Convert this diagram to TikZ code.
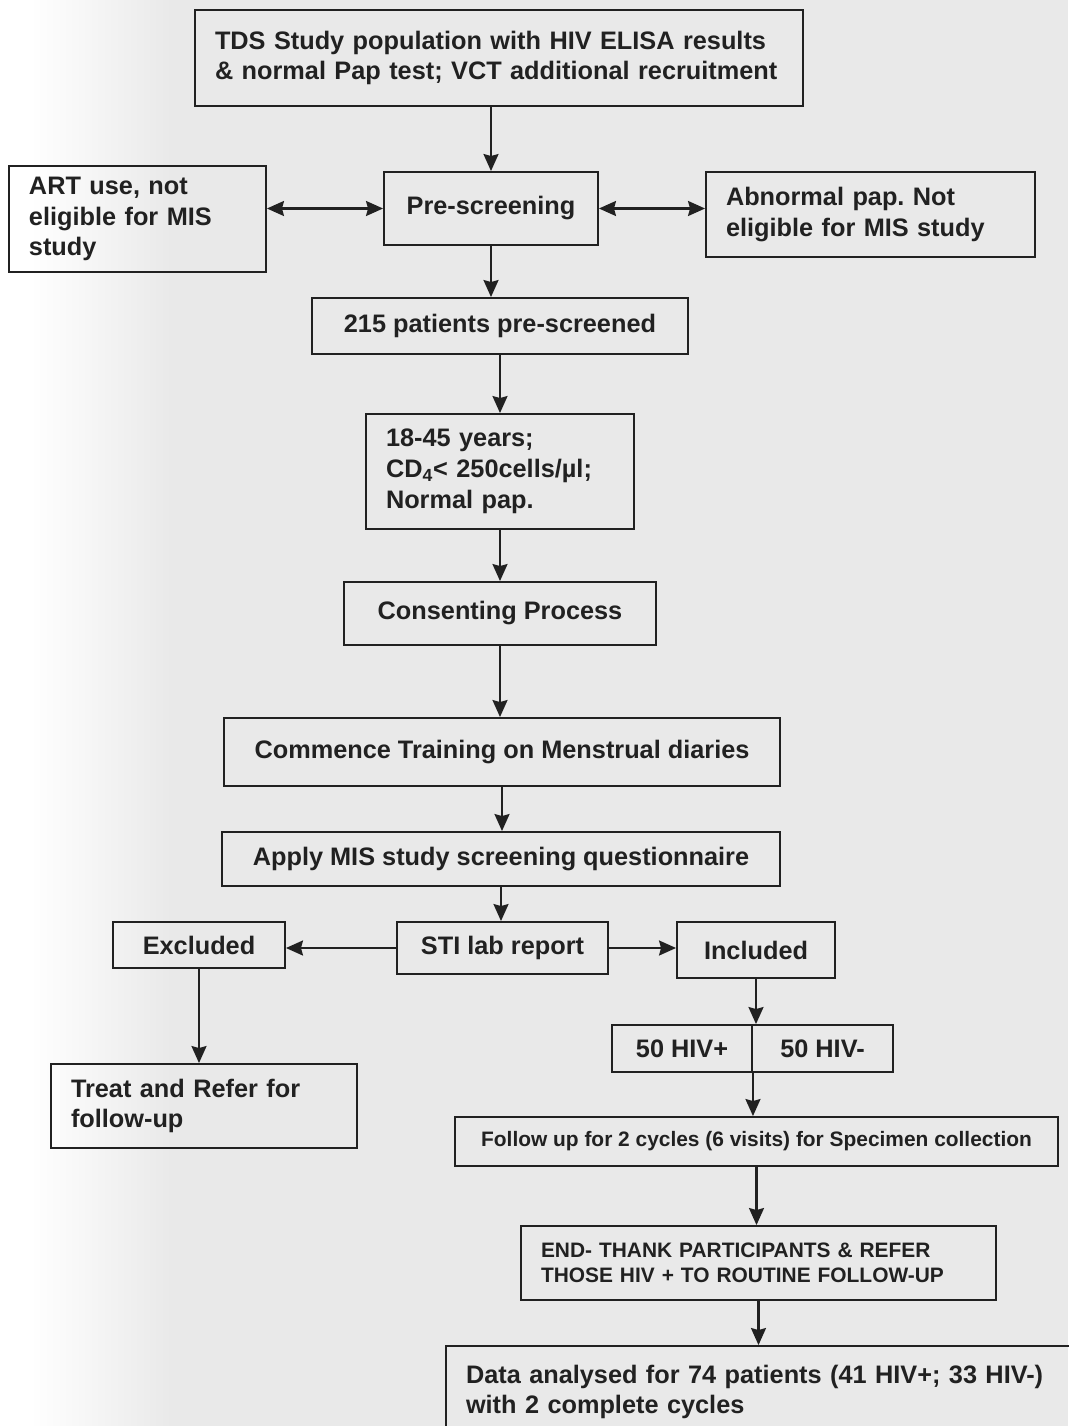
\documentclass[tikz,border=0pt]{standalone}
\usepackage{fontspec}
\setmainfont{Liberation Sans}
\usetikzlibrary{arrows.meta}
\definecolor{pagegray}{gray}{0.915}
\definecolor{inkgray}{gray}{0.13}
\frenchspacing

\begin{document}
\begin{tikzpicture}[x=0.02cm, y=-0.02cm,
    >={Stealth[length=0.34cm, width=0.3cm, inset=0.04cm]},
    every node/.style={font=\fontsize{14.4}{17.5}\selectfont\bfseries, text=inkgray},
    smalltext/.style={font=\fontsize{11.9}{14.2}\selectfont\bfseries},
    box/.style n args={2}{draw=inkgray, line width=1.1pt, inner sep=0pt,
        minimum width=#1*0.02cm, minimum height=#2*0.02cm},
    leftbox/.style n args={2}{draw=inkgray, line width=1.1pt, inner xsep=0.4cm, inner ysep=0pt,
        text width=(#1-40)*0.02cm, align=left, minimum height=#2*0.02cm},
    link/.style={draw=inkgray, line width=1.2pt}]
    \useasboundingbox (0,0) rectangle (1068,1426);
    \fill [pagegray] (0,0) rectangle (1068,1426);
    \fill [white] (0,0) rectangle (30,1426);
    \shade [left color=white, right color=pagegray] (30,0) rectangle (170,1426);

    \node [leftbox={608}{96}] (top) at (499,58)
        {TDS Study population with HIV ELISA results\\ \& normal Pap test; VCT additional recruitment};
    \node [leftbox={257}{106}] (art) at (137.5,219)
        {ART use, not\\ eligible for MIS\\ study};
    \node [box={214}{73}] (pre) at (491,208.5) {Pre-screening};
    \node [leftbox={329}{85}] (abn) at (870.5,214.5)
        {Abnormal pap. Not\\ eligible for MIS study};
    \node [box={376}{56}] (screened) at (500,326) {215 patients pre-screened};
    \node [leftbox={268}{115}] (crit) at (500,471.5)
        {18-45 years;\\ CD\textsubscript{4}< 250cells/µl;\\ Normal pap.};
    \node [box={312}{63}] (consent) at (500,613.5) {Consenting Process};
    \node [box={556}{68}] (train) at (502,752) {Commence Training on Menstrual diaries};
    \node [box={558}{54}] (apply) at (501,859) {Apply MIS study screening questionnaire};
    \node [box={211}{52}] (sti) at (502.5,948) {STI lab report};
    \node [box={172}{46}] (excl) at (199,945) {Excluded};
    \node [box={158}{56}] (incl) at (756,950) {Included};
    \node [box={140}{47}] (hivpos) at (682,1048.5) {50 HIV+};
    \node [box={141}{47}] (hivneg) at (822.5,1048.5) {50 HIV-};
    \node [leftbox={306}{84}] (treat) at (204,1106)
        {Treat and Refer for\\ follow-up};
    \node [box={603}{49}, smalltext] (follow) at (756.5,1141.5)
        {Follow up for 2 cycles (6 visits) for Specimen collection};
    \node [leftbox={475}{74}, smalltext] (thanks) at (758.5,1263)
        {END- THANK PARTICIPANTS \& REFER\\ THOSE HIV + TO ROUTINE FOLLOW-UP};
    \node [leftbox={644}{92}] (data) at (768,1392)
        {Data analysed for 74 patients (41 HIV+; 33 HIV-)\\ with 2 complete cycles};

    \draw [link, ->] (top.south -| pre) -- (pre.north);
    \draw [link, <->] (art.east |- pre.west) -- (pre.west);
    \draw [link, <->] (pre.east) -- (pre.east -| abn.west);
    \draw [link, ->] (pre.south) -- (pre.south |- screened.north);
    \draw [link, ->] (screened.south) -- (crit.north);
    \draw [link, ->] (crit.south) -- (consent.north);
    \draw [link, ->] (consent.south) -- (consent.south |- train.north);
    \draw [link, ->] (train.south) -- (train.south |- apply.north);
    \draw [link, ->] (apply.south) -- (apply.south |- sti.north);
    \draw [link, ->] (sti.west) -- (sti.west -| excl.east);
    \draw [link, ->] (sti.east) -- (sti.east -| incl.west);
    \draw [link, ->] (excl.south) -- (excl.south |- treat.north);
    \draw [link, ->] (incl.south) -- (incl.south |- hivpos.north);
    \draw [link, ->] (hivpos.south east) -- (hivpos.south east |- follow.north);
    \draw [link, ->] (follow.south) -- (follow.south |- thanks.north);
    \draw [link, ->] (thanks.south) -- (thanks.south |- data.north);
\end{tikzpicture}
\end{document}
